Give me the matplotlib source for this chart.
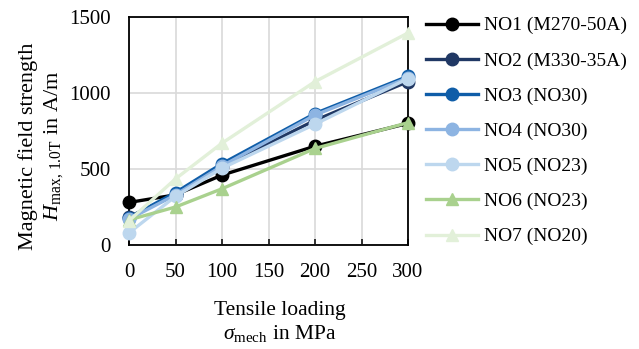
import matplotlib
matplotlib.use("Agg")
import matplotlib.pyplot as plt

plt.rcParams['font.family'] = ['Liberation Serif', 'DejaVu Serif']
plt.rcParams['mathtext.fontset'] = 'custom'
plt.rcParams['mathtext.rm'] = 'Liberation Serif'
plt.rcParams['mathtext.it'] = 'Liberation Serif:italic'

loading = [0, 50, 100, 200, 300]
names = ["NO1 (M270-50A)", "NO2 (M330-35A)", "NO3 (NO30)", "NO4 (NO30)",
         "NO5 (NO23)", "NO6 (NO23)", "NO7 (NO20)"]
no1 = [280, 330, 460, 650, 800]
no2 = [185, 330, 515, 820, 1075]
no3 = [180, 345, 535, 865, 1110]
no4 = [170, 330, 520, 855, 1100]
no5 = [80, 320, 505, 795, 1095]
no6 = [165, 250, 370, 635, 805]
no7 = [160, 435, 670, 1075, 1395]
series = [no1, no2, no3, no4, no5, no6, no7]
colors = ["#000000", "#203864", "#0F5DA8", "#8DB4E2", "#BDD7EE", "#A9D18E", "#E2F0D9"]
markers = ["o", "o", "o", "o", "o", "^", "^"]

W, H = 639, 349
fig = plt.figure(figsize=(W/100, H/100), dpi=100)
ax = fig.add_axes([129/W, 1-245/H, (408-129)/W, (245-17)/H])

for vals, name, c, m in zip(series, names, colors, markers):
    ax.plot(loading, vals, color=c, marker=m, markersize=9 if m == "o" else 8.5,
            linewidth=2.4, label=name, clip_on=False, zorder=3)

ax.set_xlim(0, 300)
ax.set_ylim(0, 1500)
ax.set_xticks(range(0, 301, 50))
ax.set_yticks(range(0, 1501, 500))
ax.grid(True, color="#d9d9d9", linewidth=1.2, zorder=0)
ax.set_axisbelow(True)
for s in ax.spines.values():
    s.set_linewidth(1.3)
    s.set_color("black")
ax.tick_params(axis='x', direction='in', length=4, width=1.1, labelsize=15, pad=13)
ax.tick_params(axis='y', length=0, labelsize=15, pad=13)

fig.text(280/W, 1-322.5/H, "Tensile loading\n$\\mathit{\\sigma}_{\\mathrm{mech}}$ in MPa",
         fontsize=15.5, ha='center', va='center', linespacing=1.2, multialignment='center')
fig.text(41.5/W, 1-146/H, "Magnetic field strength\n$\\mathit{H}_{\\mathrm{max,\\,1.0T}}$ in A/m",
         fontsize=16, ha='center', va='center', rotation=90, linespacing=1.22,
         multialignment='center')

leg = fig.legend(loc='upper left', bbox_to_anchor=(418/W, 1-9/H), frameon=False,
                 fontsize=14, handlelength=2.7, labelspacing=0.9, handletextpad=0.3,
                 borderaxespad=0)
fig.savefig("out.png", dpi=100)
